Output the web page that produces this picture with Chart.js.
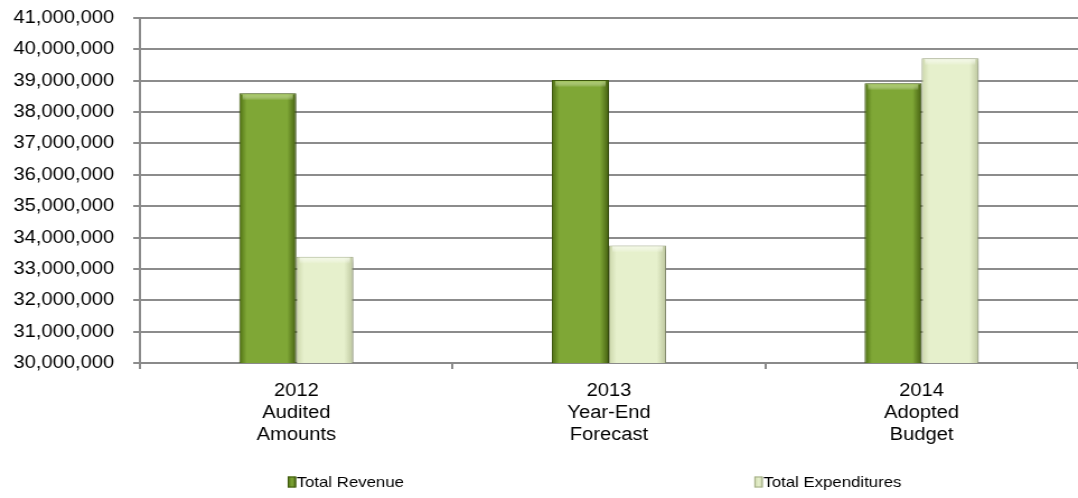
<!DOCTYPE html>
<html>
<head>
<meta charset="utf-8">
<script src="https://cdn.jsdelivr.net/npm/chart.js@4/dist/chart.umd.min.js"></script>
<style>
  html, body { margin: 0; padding: 0; background: #fff; overflow: hidden; }
  #wrap { width: 1078px; height: 498px; overflow: hidden; }
  #c { transform: scaleX(1.1194); transform-origin: 0 0; display: block; }
</style>
</head>
<body>
<div id="wrap"><canvas id="c" width="963" height="498"></canvas></div>
<script>
// Categories (multi-line axis labels)
const categories = [
  ['2012', 'Audited', 'Amounts'],
  ['2013', 'Year-End', 'Forecast'],
  ['2014', 'Adopted', 'Budget']
];
// Series values
const totalRevenue = [38600000, 39020000, 38920000];
const totalExpenditures = [33390000, 33750000, 39720000];
// Value axis range
const yMin = 30000000;
const yMax = 41000000;
const yStep = 1000000;

const CAT_PCT = 0.365;
const FONT = "'Liberation Sans', Arial, sans-serif";

const palettes = [
  { edge: '#4d6e12', mid: '#7fa736', far: '#445f10', border: '#3f5a0e', top: '#9cc24f' },
  { edge: '#cbd6aa', mid: '#e6f0cc', far: '#bcc69d', border: '#a3ad87', top: '#f3f8e6' }
];

// Horizontal gradient across each bar, positioned from the category scale
function barFill(ctx) {
  const chart = ctx.chart;
  const p = palettes[ctx.datasetIndex];
  const xs = chart.scales.x;
  if (!chart.chartArea || !xs || ctx.dataIndex === undefined) return p.mid;
  const center = xs.getPixelForValue(ctx.dataIndex);
  const catW = xs.width / chart.data.labels.length;
  const w = catW * CAT_PCT / 2;
  const left = ctx.datasetIndex === 0 ? center - w : center;
  const g = chart.ctx.createLinearGradient(left, 0, left + w, 0);
  g.addColorStop(0, p.edge);
  g.addColorStop(0.13, p.mid);
  g.addColorStop(0.84, p.mid);
  g.addColorStop(1, p.far);
  return g;
}

// Soft drop shadow under the bars, plus a light bevel along each bar top
const barShadow = {
  id: 'barShadow',
  beforeDatasetsDraw(chart) {
    const c = chart.ctx;
    c.save();
    c.shadowColor = 'rgba(0,0,0,0.28)';
    c.shadowBlur = 5;
    c.shadowOffsetX = 2;
    c.shadowOffsetY = 2;
  },
  afterDatasetsDraw(chart) {
    chart.ctx.restore();
    const c = chart.ctx;
    c.save();
    chart.data.datasets.forEach((ds, i) => {
      const meta = chart.getDatasetMeta(i);
      meta.data.forEach((bar) => {
        const { x, y, width } = bar.getProps(['x', 'y', 'width'], true);
        const g = c.createLinearGradient(0, y, 0, y + 7);
        g.addColorStop(0, palettes[i].top);
        g.addColorStop(1, 'rgba(255,255,255,0)');
        c.fillStyle = g;
        c.fillRect(x - width / 2 + 3, y + 1, width - 6, 7);
      });
    });
    c.restore();
  }
};

// Legend row below the axis labels
const bottomLegend = {
  id: 'bottomLegend',
  afterDraw(chart) {
    const c = chart.ctx;
    const a = chart.chartArea;
    const starts = [0.1575, 0.655];
    const y = 482;
    c.save();
    c.font = '15px ' + FONT;
    c.textBaseline = 'middle';
    chart.data.datasets.forEach((ds, i) => {
      const p = palettes[i];
      const x = a.left + a.width * starts[i];
      const g = c.createLinearGradient(x, 0, x + 8, 0);
      g.addColorStop(0, p.edge);
      g.addColorStop(0.5, p.mid);
      g.addColorStop(1, p.far);
      c.fillStyle = g;
      c.fillRect(x, y - 5.5, 7.5, 11);
      c.strokeStyle = p.border;
      c.lineWidth = 1;
      c.strokeRect(x + 0.5, y - 5, 6.5, 10);
      c.fillStyle = '#000';
      c.textAlign = 'left';
      c.fillText(ds.label, x + 8, y + 0.5);
    });
    c.restore();
  }
};

new Chart(document.getElementById('c'), {
  type: 'bar',
  data: {
    labels: categories,
    datasets: [
      {
        label: 'Total Revenue',
        data: totalRevenue,
        backgroundColor: barFill,
        borderColor: palettes[0].border,
        borderWidth: 1,
        borderSkipped: 'bottom',
        barPercentage: 1,
        categoryPercentage: CAT_PCT
      },
      {
        label: 'Total Expenditures',
        data: totalExpenditures,
        backgroundColor: barFill,
        borderColor: palettes[1].border,
        borderWidth: 1,
        borderSkipped: 'bottom',
        barPercentage: 1,
        categoryPercentage: CAT_PCT
      }
    ]
  },
  options: {
    responsive: false,
    animation: false,
    devicePixelRatio: 1,
    layout: { padding: { top: 18, right: 0, bottom: 40, left: 0 } },
    plugins: {
      legend: { display: false },
      title: { display: false },
      tooltip: { enabled: false }
    },
    scales: {
      x: {
        offset: true,
        grid: {
          offset: true,
          drawOnChartArea: false,
          drawTicks: true,
          tickLength: 6,
          color: '#8a8a8a',
          lineWidth: 2
        },
        border: { display: true, color: '#8a8a8a', width: 2 },
        ticks: {
          color: '#000',
          padding: 11,
          maxRotation: 0,
          autoSkip: false,
          font: { family: FONT, size: 18, lineHeight: 1.22 }
        },
        afterFit(scale) {
          scale.height = 95;
          scale.paddingLeft = 0;
          scale.paddingRight = 0;
        }
      },
      y: {
        min: yMin,
        max: yMax,
        grid: {
          color: '#8c8c8c',
          lineWidth: 2,
          drawTicks: true,
          tickLength: 6
        },
        border: { display: true, color: '#8a8a8a', width: 2 },
        ticks: {
          stepSize: yStep,
          color: '#000',
          padding: 17,
          font: { family: FONT, size: 18 },
          callback: (v) => Number(v).toLocaleString('en-US')
        },
        afterFit(scale) {
          scale.width = 125;
          scale.paddingTop = 0;
          scale.paddingBottom = 0;
        }
      }
    }
  },
  plugins: [barShadow, bottomLegend]
});
</script>
</body>
</html>
